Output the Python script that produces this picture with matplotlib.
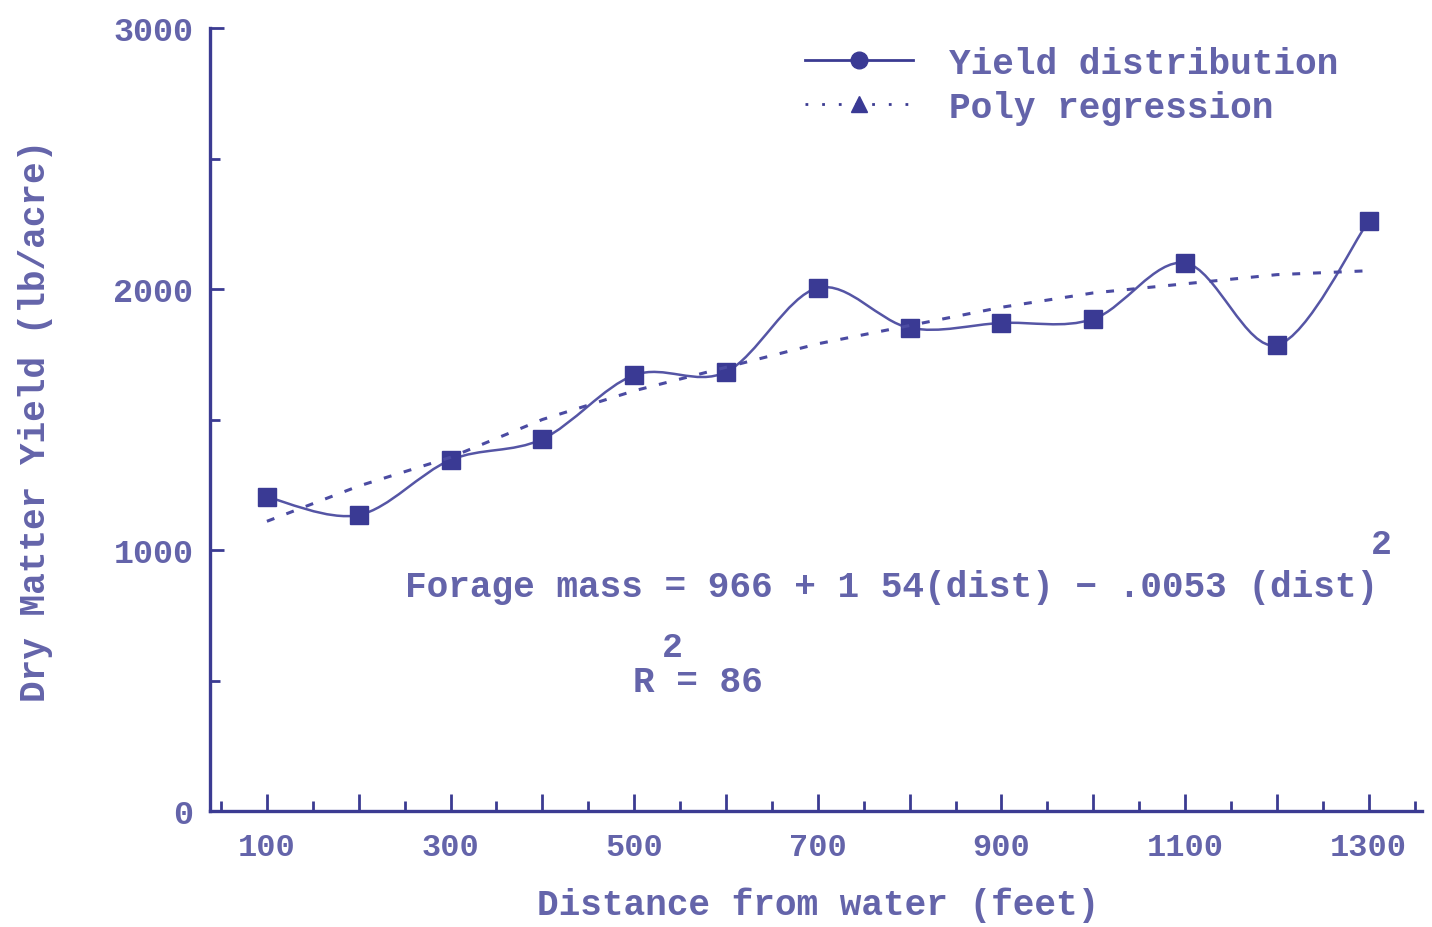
import matplotlib
matplotlib.use('Agg')
import matplotlib.pyplot as plt
from matplotlib.path import Path
from matplotlib.patches import PathPatch
from matplotlib.lines import Line2D
from matplotlib.ticker import FixedLocator, FuncFormatter
import numpy as np

# distance from water (feet)
dist = [100, 200, 300, 400, 500, 600, 700, 800, 900, 1000, 1100, 1200, 1300]
# measured dry matter yield (lb/acre)
yield_obs = [1203, 1134, 1345, 1425, 1670, 1682, 2004, 1851, 1870, 1885, 2100, 1785, 2261]
# fitted polynomial regression values
yield_fit = [1110, 1245, 1355, 1500, 1610, 1700, 1790, 1860, 1930, 1985, 2020, 2055, 2070]

x_labels = [100, 300, 500, 700, 900, 1100, 1300]
y_labels = [0, 1000, 2000, 3000]

text_col = '#6464aa'
axis_col = '#3b3b92'
mark_col = '#3a3a94'
line_col = '#5555a5'

plt.rcParams['font.family'] = ['Liberation Mono', 'DejaVu Sans Mono']
plt.rcParams['font.weight'] = 'bold'
fs = 25


def catmull_rom_path(xs, ys):
    # smooth curve through the points, built from bezier segments
    xs = np.asarray(xs, float)
    ys = np.asarray(ys, float)
    pts = np.column_stack([xs, ys])
    verts = [pts[0]]
    codes = [Path.MOVETO]
    n = len(pts)
    for i in range(n - 1):
        p0 = pts[i - 1] if i > 0 else pts[i]
        p1 = pts[i]
        p2 = pts[i + 1]
        p3 = pts[i + 2] if i + 2 < n else pts[i + 1]
        c1 = p1 + (p2 - p0) / 6.0
        c2 = p2 - (p3 - p1) / 6.0
        verts += [c1, c2, p2]
        codes += [Path.CURVE4] * 3
    return Path(verts, codes)


fig = plt.figure(figsize=(14.32, 9.28), dpi=100)
ax = fig.add_axes([210 / 1432, 1 - 812 / 928, (1422 - 210) / 1432, (812 - 29) / 928])

ax.add_patch(PathPatch(catmull_rom_path(dist, yield_obs), fill=False,
                       edgecolor=line_col, lw=1.8))
ax.plot(dist, yield_obs, ls='none', marker='s', ms=13, color=mark_col)
ax.plot(dist, yield_fit, ls=(0, (2.6, 4.2)), lw=2.2, color='#4b4ba2')

ax.set_xlim(38, 1358)
ax.set_ylim(0, 3000)

for s in ['top', 'right']:
    ax.spines[s].set_visible(False)
for s in ['left', 'bottom']:
    ax.spines[s].set_color(axis_col)
    ax.spines[s].set_linewidth(2.4)

ax.xaxis.set_major_locator(FixedLocator(dist))
ax.xaxis.set_major_formatter(FuncFormatter(lambda v, p: str(int(v)) if int(v) in x_labels else ''))
ax.xaxis.set_minor_locator(FixedLocator([d - 50 for d in dist] + [1350]))
ax.yaxis.set_major_locator(FixedLocator(y_labels))
ax.yaxis.set_minor_locator(FixedLocator([500, 1500, 2500]))

ax.tick_params(axis='x', which='major', direction='in', length=12, width=2,
               color=axis_col, labelcolor=text_col, labelsize=fs - 2, pad=15)
ax.tick_params(axis='x', which='minor', direction='in', length=7, width=2, color=axis_col)
ax.tick_params(axis='y', which='major', direction='in', length=10, width=2,
               color=axis_col, labelcolor=text_col, labelsize=fs - 1, pad=12)
ax.tick_params(axis='y', which='minor', direction='in', length=7, width=2, color=axis_col)

fig.text(818 / 1432, 1 - 905 / 928, 'Distance from water (feet)', color=text_col,
         fontsize=fs + 1, ha='center', va='center')
fig.text(36 / 1432, 1 - 421 / 928, 'Dry Matter Yield (lb/acre)', color=text_col,
         fontsize=fs + 1, ha='center', va='center', rotation=90)

ax.text(250, 862, 'Forage mass = 966 + 1 54(dist) \u2212 .0053 (dist)', color=text_col,
        fontsize=fs + 1, ha='left', va='center')
ax.text(1314, 1023, '2', color=text_col, fontsize=fs, ha='center', va='center')
ax.text(499, 495, 'R = 86', color=text_col, fontsize=fs + 1, ha='left', va='center')
ax.text(541, 630, '2', color=text_col, fontsize=fs, ha='center', va='center')

handles = [Line2D([], [], color=axis_col, lw=2, marker='o', ms=12, mfc=mark_col, mec=mark_col),
           Line2D([], [], color=axis_col, lw=2, ls=(0, (1, 5)), marker='^', ms=11, mfc=mark_col, mec=mark_col)]
leg = fig.legend(handles, ['Yield distribution', 'Poly regression'], loc='upper left',
                 bbox_to_anchor=(805 / 1432, 1 - 47 / 928), frameon=False, fontsize=fs + 1,
                 handlelength=3.0, handletextpad=1.0, labelspacing=0.25, borderpad=0,
                 borderaxespad=0)
for t in leg.get_texts():
    t.set_color(text_col)

fig.savefig('out.png', dpi=100, facecolor='white')
